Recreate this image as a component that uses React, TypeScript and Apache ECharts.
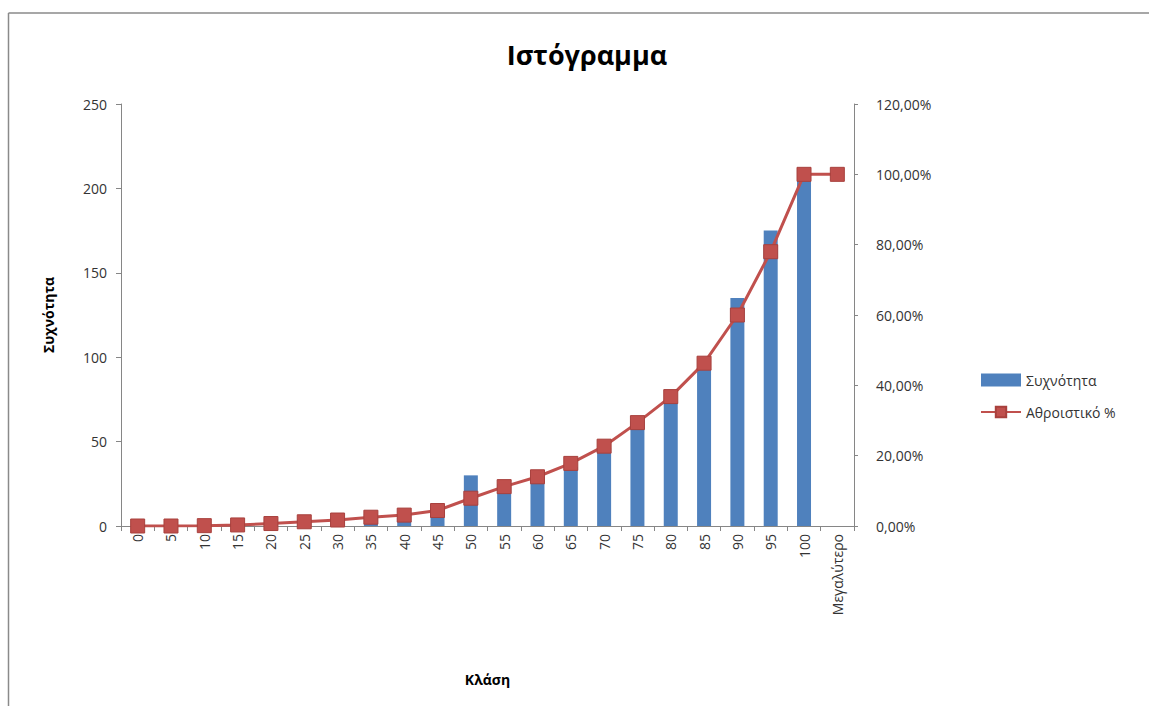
import React, { useEffect, useRef } from "react";
import * as echarts from "echarts";

const categories = ["0", "5", "10", "15", "20", "25", "30", "35", "40", "45", "50", "55", "60", "65", "70", "75", "80", "85", "90", "95", "100", "Μεγαλύτερο"];
const frequency = [0, 0, 1, 2, 4, 4, 5, 7, 6, 12, 30, 25, 28, 35, 46, 62, 73, 93, 135, 175, 207, 0];
const cumulativePct = [0, 0, 0.1, 0.3, 0.7, 1.2, 1.7, 2.5, 3.1, 4.4, 7.9, 11.2, 14.0, 17.8, 22.7, 29.4, 36.8, 46.3, 60.0, 78.0, 100, 100];

const FONT = "'Open Sans', 'Noto Sans', sans-serif";
const AXIS_GRAY = "#868686";

export default function App() {
  const ref = useRef<HTMLDivElement>(null);
  useEffect(() => {
    if (!ref.current) return;
    const chart = echarts.init(ref.current, null, { renderer: "svg" });
    chart.setOption({
      animation: false,
      backgroundColor: "#ffffff",
      textStyle: { fontFamily: FONT },
      title: {
        text: "Ιστόγραμμα",
        left: 582,
        textAlign: "center",
        top: 36,
        textStyle: { fontFamily: FONT, fontSize: 27, fontWeight: "bold", color: "#000" },
      },
      graphic: [
        {
          type: "line",
          shape: { x1: 8.5, y1: 13, x2: 1149, y2: 13 },
          style: { stroke: "#8a8a8a", lineWidth: 1.5 },
          silent: true,
        },
        {
          type: "line",
          shape: { x1: 8.5, y1: 13, x2: 8.5, y2: 706 },
          style: { stroke: "#8a8a8a", lineWidth: 1.5 },
          silent: true,
        },
      ],
      legend: {
        orient: "vertical",
        left: 975,
        top: 368,
        itemGap: 18,
        itemWidth: 40,
        itemHeight: 13,
        textStyle: { fontFamily: FONT, fontSize: 14, color: "#333" },
        data: [
          { name: "Συχνότητα", icon: "rect" },
          { name: "Αθροιστικό %" },
        ],
      },
      grid: { left: 121, right: 295, top: 104, bottom: 180, containLabel: false },
      xAxis: {
        type: "category",
        data: categories,
        boundaryGap: true,
        name: "Κλάση",
        nameLocation: "middle",
        nameGap: 146,
        nameTextStyle: { fontFamily: FONT, fontSize: 14, fontWeight: "bold", color: "#000" },
        axisLine: { lineStyle: { color: AXIS_GRAY, width: 1 } },
        axisTick: { show: true, alignWithLabel: false, length: 5, lineStyle: { color: AXIS_GRAY } },
        axisLabel: { rotate: 90, fontFamily: FONT, fontSize: 14, color: "#333", margin: 8, interval: 0 },
        splitLine: { show: false },
      },
      yAxis: [
        {
          type: "value",
          min: 0,
          max: 250,
          interval: 50,
          name: "Συχνότητα",
          nameLocation: "middle",
          nameRotate: 90,
          nameGap: 66,
          nameTextStyle: { fontFamily: FONT, fontSize: 14, fontWeight: "bold", color: "#000" },
          axisLine: { show: true, lineStyle: { color: AXIS_GRAY, width: 1 } },
          axisTick: { show: true, length: 5, lineStyle: { color: AXIS_GRAY } },
          axisLabel: { fontFamily: FONT, fontSize: 14, color: "#333", margin: 14 },
          splitLine: { show: false },
        },
        {
          type: "value",
          min: 0,
          max: 120,
          interval: 20,
          position: "right",
          axisLine: { show: true, lineStyle: { color: AXIS_GRAY, width: 1 } },
          axisTick: { show: true, length: 4, lineStyle: { color: AXIS_GRAY } },
          axisLabel: {
            fontFamily: FONT,
            fontSize: 14,
            color: "#333",
            margin: 22,
            formatter: (v: number) => v.toFixed(2).replace(".", ",") + "%",
          },
          splitLine: { show: false },
        },
      ],
      series: [
        {
          name: "Συχνότητα",
          type: "bar",
          data: frequency,
          yAxisIndex: 0,
          barWidth: "42%",
          itemStyle: { color: "#4F81BD" },
        },
        {
          name: "Αθροιστικό %",
          type: "line",
          data: cumulativePct,
          yAxisIndex: 1,
          symbol: "rect",
          symbolSize: 14,
          showAllSymbol: true,
          lineStyle: { color: "#C0504D", width: 3 },
          itemStyle: { color: "#C0504D", borderColor: "#A8403D", borderWidth: 1 },
        },
      ],
    });
    return () => chart.dispose();
  }, []);
  return (
    <div
      ref={ref}
      style={{ position: "fixed", left: 0, top: 0, width: 1149, height: 706 }}
    />
  );
}
